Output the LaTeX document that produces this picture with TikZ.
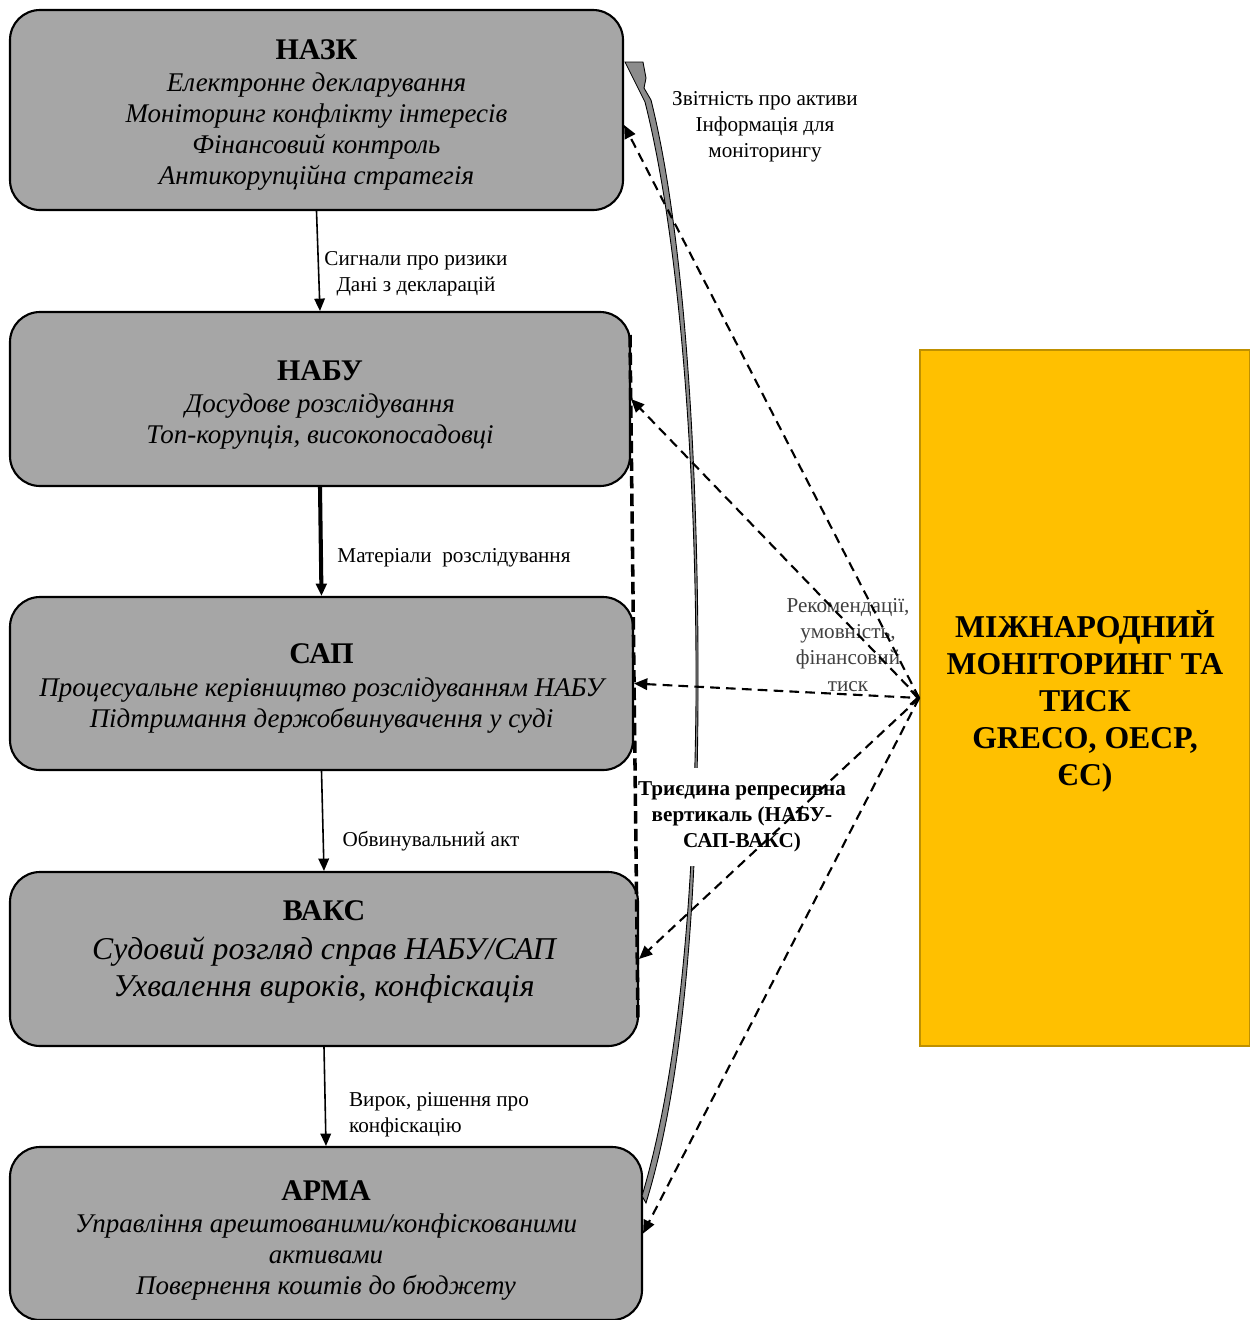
\documentclass[tikz,border=0pt]{standalone}
\usepackage{fontspec}
\setmainfont{Liberation Serif}
\usetikzlibrary{arrows.meta, positioning, calc}

\definecolor{organgray}{HTML}{A6A6A6}
\definecolor{bandgray}{HTML}{8C8C8C}
\definecolor{intlyellow}{HTML}{FFC000}
\definecolor{intlborder}{HTML}{BF9000}
\def\pxu{0.567pt}
\newcommand\organtitlefont{\fontsize{17}{18}\selectfont\bfseries\upshape}

\tikzset{
  organ/.style={draw=black, line width=1.2pt, fill=organgray, rounded corners=17pt, inner sep=0pt},
  organtext/.style={font=\fontsize{15.3}{17.6}\selectfont\itshape, align=center, inner sep=0pt},
  flow/.style={-{Triangle[length=7pt,width=6pt]}, line width=0.9pt},
  pressure/.style={-{Triangle[length=7.5pt,width=6.5pt]}, line width=1.2pt, dash pattern=on 5.5pt off 3.5pt},
  note/.style={font=\fontsize{12}{14.8}\selectfont, align=center, inner sep=1pt},
}

\begin{document}
\begin{tikzpicture}[x=0.567pt, y=-0.567pt]
\useasboundingbox (0,0) rectangle (1250,1320);

% the five bodies of the chain
\node[organ, minimum width=613*\pxu, minimum height=200*\pxu] (nazk) at (316.5,110) {};
\node[organ, minimum width=620*\pxu, minimum height=174*\pxu] (nabu) at (320,399) {};
\node[organ, minimum width=623*\pxu, minimum height=173*\pxu] (sap) at (321.5,683.5) {};
\node[organ, minimum width=628*\pxu, minimum height=174*\pxu] (vaks) at (324,959) {};
\node[organ, minimum width=632*\pxu, minimum height=173*\pxu] (arma) at (326,1233.5) {};

\node[organtext] (nazk-txt) at ($(nazk.center)+(0,5)$) {{\organtitlefont НАЗК}\\[1pt]
  Електронне декларування\\Моніторинг конфлікту інтересів\\Фінансовий контроль\\Антикорупційна стратегія};
\node[organtext] (nabu-txt) at ($(nabu.center)+(0,6)$) {{\organtitlefont НАБУ}\\[1pt]
  Досудове розслідування\\Топ-корупція, високопосадовці};
\node[organtext] (sap-txt) at ($(sap.center)+(0,5)$) {{\organtitlefont САП}\\[1pt]
  Процесуальне керівництво розслідуванням НАБУ\\Підтримання держобвинувачення у суді};
\node[organtext, font=\fontsize{18}{21}\selectfont\itshape] (vaks-txt) at ($(vaks.center)+(0,-7)$) {{\organtitlefont ВАКС}\\[1pt]
  Судовий розгляд справ НАБУ/САП\\Ухвалення вироків, конфіскація};
\node[organtext] (arma-txt) at ($(arma.center)+(0,7)$) {{\organtitlefont АРМА}\\[1pt]
  Управління арештованими/конфіскованими\\активами\\Повернення коштів до бюджету};

% international side
\node[draw=intlborder, line width=1pt, fill=intlyellow, minimum width=330*\pxu, minimum height=696*\pxu,
  align=center, font=\fontsize{18}{21}\selectfont\bfseries] (intl) at (1085,698) {};
\node[align=center, font=\fontsize{18}{21}\selectfont\bfseries] (intl-txt) at ($(intl.center)+(0,3)$)
  {МІЖНАРОДНИЙ\\МОНІТОРИНГ ТА\\ТИСК\\GRECO, OECP,\\ЄС)};

% chain arrows
\draw[flow] (nazk.south) -- (nabu.north);
\draw[flow, line width=2.3pt] (nabu.south) -- (sap.north);
\draw[flow] (sap.south) -- (vaks.north);
\draw[flow] (vaks.south) -- (arma.north);

\node[note] (risk) at (416,274) {Сигнали про ризики\\Дані з декларацій};
\node[note] (materials) at (454,558) {Матеріали\ \ розслідування};
\node[note] (indictment) at (431,841) {Обвинувальний акт};
\node[note, align=left, anchor=west] (verdict) at (347,1115) {Вирок, рішення про\\конфіскацію};
\node[note] (reports) at (765,127) {Звітність про активи\\Інформація для\\моніторингу};

% return of assets, curved band
\filldraw[fill=bandgray, draw=black, line width=0.5pt]
  (625,62) -- (643,62) -- (646,78) -- (644,88) -- (651,100)
  .. controls (686,240) and (699,480) .. (698,700)
  .. controls (697,920) and (681,1090) .. (646,1203)
  -- (642,1196)
  .. controls (675,1085) and (694,920) .. (696,700)
  .. controls (697,480) and (681,245) .. (645,102) -- cycle;

\node[note, font=\fontsize{12}{14.8}\selectfont\bfseries, fill=white, inner xsep=2pt, inner ysep=8pt] (triad) at (742,817)
  {Триєдина репресивна\\вертикаль (НАБУ-\\САП-ВАКС)};

% vertical bracket of the triad
\coordinate (vtop) at (630,335);
\coordinate (vbot) at (638,1022);
\draw[line width=2pt, dash pattern=on 7pt off 3pt] (vtop) -- (vbot);

% pressure lines
\node[note, text=black!75] (recs) at (848,645) {Рекомендації,\\умовність,\\фінансовий\\тиск};
\draw[pressure] (intl.west) -- (nazk.east |- 0,125);
\draw[pressure] (intl.west) -- (nabu.east);
\draw[pressure, {Triangle[length=7.5pt,width=6.5pt]}-{Straight Barb[length=4pt,width=8pt]}] (sap.east) -- (intl.west);
\draw[pressure] (intl.west) -- (vaks.east);
\draw[pressure] (intl.west) -- (arma.east);
\end{tikzpicture}
\end{document}
